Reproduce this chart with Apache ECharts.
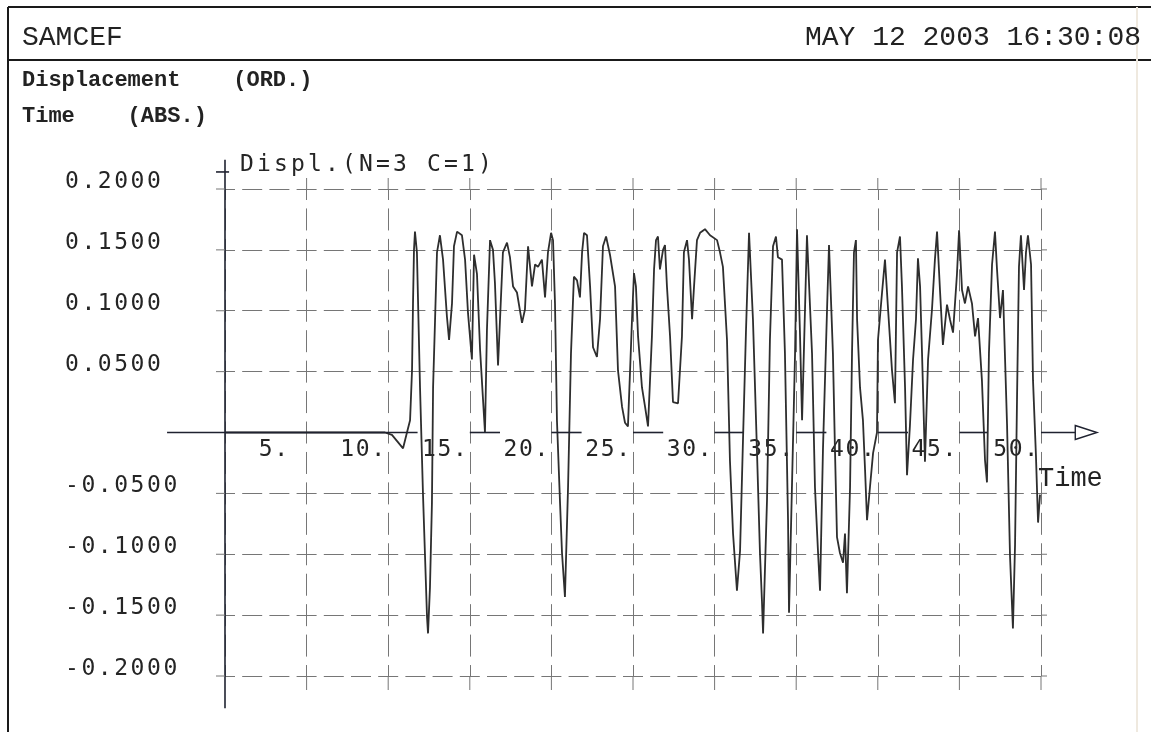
<!DOCTYPE html>
<html lang="en">
<head>
  <meta charset="UTF-8">
  <title>SAMCEF - Displacement</title>
  <script src="https://cdn.jsdelivr.net/npm/echarts@6.0.0/dist/echarts.min.js"></script>
  <style>
    html, body { margin: 0; padding: 0; background: #fff; }
    #chart { width: 1151px; height: 732px; }
  </style>
</head>
<body>
  <div id="chart"></div>
  <script>
    // Time (ABS.)
    const timeValues = [
      0, 9.80, 10.23, 10.91, 11.15, 11.34, 11.46, 11.52, 11.58, 11.64,
      11.76, 11.95, 12.13, 12.25, 12.38, 12.44, 12.56, 12.68, 12.75, 12.87,
      12.99, 13.17, 13.36, 13.60, 13.73, 13.91, 14.03, 14.22, 14.52, 14.71,
      14.89, 15.13, 15.26, 15.44, 15.63, 15.81, 15.93, 16.05, 16.24, 16.42,
      16.54, 16.73, 17.03, 17.28, 17.46, 17.65, 17.89, 18.20, 18.38, 18.57,
      18.81, 19.00, 19.18, 19.42, 19.61, 19.79, 19.98, 20.10, 20.22, 20.34,
      20.53, 20.65, 20.83, 21.02, 21.20, 21.38, 21.57, 21.75, 21.88, 22.00,
      22.18, 22.37, 22.55, 22.79, 22.98, 23.16, 23.35, 23.59, 23.90, 24.08,
      24.33, 24.51, 24.69, 24.94, 25.06, 25.18, 25.31, 25.55, 25.74, 25.92,
      26.16, 26.29, 26.41, 26.53, 26.65, 26.84, 26.96, 27.08, 27.27, 27.45,
      27.76, 28.00, 28.12, 28.31, 28.43, 28.62, 28.74, 28.92, 29.11, 29.41,
      29.72, 30.15, 30.33, 30.51, 30.76, 30.94, 31.13, 31.37, 31.56, 31.74,
      31.92, 32.11, 32.35, 32.60, 32.78, 32.90, 32.97, 33.21, 33.39, 33.58,
      33.76, 33.88, 34.13, 34.31, 34.50, 34.56, 34.68, 34.93, 35.05, 35.23,
      35.36, 35.66, 35.97, 36.15, 36.34, 36.46, 36.64, 36.89, 37.01, 37.25,
      37.38, 37.50, 37.68, 37.87, 37.99, 38.11, 38.30, 38.42, 38.54, 38.66,
      38.73, 38.91, 39.09, 39.22, 39.34, 39.52, 39.71, 39.95, 40.01, 40.26,
      40.44, 40.63, 40.87, 41.05, 41.18, 41.36, 41.48, 41.67, 41.79, 41.97,
      42.16, 42.34, 42.46, 42.59, 42.71, 42.89, 43.08, 43.32, 43.50, 43.63,
      43.81, 43.99, 44.24, 44.42, 44.61, 44.85, 44.98, 45.16, 45.34, 45.53,
      45.77, 45.96, 46.14, 46.38, 46.57, 46.69, 46.81, 47.00, 47.18, 47.30,
      47.49, 47.67, 47.92, 48.10, 48.28, 48.41, 48.53, 48.65, 48.77, 48.96,
      49.08, 49.20, 49.39, 49.51, 49.69, 49.82, 49.94
    ];

    // Displ. (N=3 C=1), same order as timeValues
    const displValues = [
      0, 0, -0.002, -0.013, 0, 0.010, 0.051, 0.106, 0.150, 0.165,
      0.148, 0.037, -0.050, -0.099, -0.152, -0.165, -0.127, -0.058, 0.037, 0.092,
      0.148, 0.162, 0.142, 0.095, 0.076, 0.106, 0.153, 0.165, 0.162, 0.142,
      0.098, 0.060, 0.146, 0.130, 0.068, 0.027, 0.000, 0.084, 0.158, 0.150,
      0.123, 0.055, 0.148, 0.156, 0.144, 0.120, 0.115, 0.090, 0.101, 0.153,
      0.120, 0.138, 0.136, 0.142, 0.111, 0.148, 0.164, 0.158, 0.106, 0.010,
      -0.058, -0.099, -0.135, -0.045, 0.065, 0.128, 0.125, 0.111, 0.148, 0.164,
      0.162, 0.120, 0.070, 0.062, 0.093, 0.153, 0.161, 0.146, 0.120, 0.051,
      0.021, 0.008, 0.005, 0.093, 0.131, 0.120, 0.079, 0.037, 0.021, 0.005,
      0.079, 0.134, 0.158, 0.161, 0.134, 0.150, 0.154, 0.120, 0.079, 0.025,
      0.024, 0.079, 0.148, 0.158, 0.142, 0.093, 0.120, 0.158, 0.164, 0.167,
      0.162, 0.158, 0.148, 0.136, 0.076, -0.023, -0.083, -0.130, -0.097, -0.006,
      0.082, 0.164, 0.093, -0.017, -0.099, -0.138, -0.165, -0.056, 0.076, 0.153,
      0.161, 0.144, 0.142, 0.065, -0.072, -0.148, -0.148, 0.065, 0.167, 0.082,
      0.010, 0.162, 0.065, -0.045, -0.099, -0.130, -0.014, 0.101, 0.154, 0.065,
      -0.017, -0.086, -0.099, -0.107, -0.083, -0.132, -0.045, 0.065, 0.148, 0.158,
      0.093, 0.037, 0.010, -0.031, -0.072, -0.045, -0.017, 0, 0.076, 0.115,
      0.142, 0.101, 0.051, 0.024, 0.148, 0.161, 0.120, 0.037, -0.035, 0.006,
      0.060, 0.093, 0.143, 0.120, 0.065, -0.024, 0.060, 0.101, 0.142, 0.165,
      0.117, 0.072, 0.105, 0.093, 0.082, 0.130, 0.166, 0.117, 0.106, 0.120,
      0.106, 0.079, 0.094, 0.043, -0.023, -0.041, 0.065, 0.138, 0.165, 0.135,
      0.094, 0.117, 0.006, -0.101, -0.161, -0.092, 0.027, 0.136, 0.162, 0.117,
      0.148, 0.162, 0.138, 0.043, -0.019, -0.074, -0.051
    ];

    const xTickLabels = ['', '5.', '10.', '15.', '20.', '25.', '30.', '35.', '40.', '45.', '50.'];
    const yTickLabels = ['-0.2000', '-0.1500', '-0.1000', '-0.0500', '', '0.0500', '0.1000', '0.1500', '0.2000'];
    const xTickValues = [5, 10, 15, 20, 25, 30, 35, 40, 45, 50];
    const yTickValues = [-0.2, -0.15, -0.1, -0.05, 0.05, 0.1, 0.15, 0.2];

    // visible pieces of the time axis (time units)
    const axisSegments = [[-3.55, 11.8], [15, 16.85], [20, 21.85], [25, 26.85], [30, 31.75],
      [35, 36.85], [40, 41.85], [45, 46.7], [50, 52.1]];

    const plotFont = 'DejaVu Sans Mono';
    const inkColor = '#252525';
    const gridColor = '#767676';
    const gridHeight = 487;

    // spread a string into fixed-pitch rich tokens (plotter lettering)
    function spread(text, style) {
      return text.split('').map(ch => '{' + style + '|' + ch + '}').join('');
    }

    const chart = echarts.init(document.getElementById('chart'));

    const option = {
      animation: false,
      backgroundColor: '#fff',
      grid: { left: 225, right: 110, top: 189, height: gridHeight },
      xAxis: {
        type: 'value',
        min: 0,
        max: 50,
        interval: 5,
        position: 'bottom',
        // y runs -0.2..0.2, so the zero line sits half a grid above the bottom
        offset: -gridHeight / 2,
        axisLine: { show: false, onZero: false },
        axisTick: { show: false },
        axisLabel: {
          margin: 6,
          align: 'right',
          verticalAlign: 'top',
          padding: [0, 3, 0, 0],
          formatter: (v, i) => xTickLabels[i] ? spread(xTickLabels[i].padEnd(3, ' '), 'x') : '',
          rich: {
            x: { width: 15.5, fontFamily: plotFont, fontSize: 23, lineHeight: 23, color: inkColor }
          }
        },
        splitLine: {
          show: true,
          lineStyle: { color: gridColor, width: 1, type: [22, 8.44], dashOffset: 11 }
        },
        name: 'Time',
        nameLocation: 'end',
        nameGap: -3,
        nameTextStyle: {
          fontFamily: 'Liberation Mono',
          fontSize: 27,
          color: '#222',
          align: 'left',
          verticalAlign: 'top',
          padding: [33, 0, 0, 0]
        }
      },
      yAxis: {
        type: 'value',
        min: -0.2,
        max: 0.2,
        interval: 0.05,
        axisLine: { show: false },
        axisTick: { show: false },
        axisLabel: {
          margin: 160,
          align: 'left',
          verticalAlign: 'bottom',
          formatter: (v, i) => yTickLabels[i] ? spread(yTickLabels[i], 'y') : '',
          rich: {
            y: { width: 16.4, fontFamily: plotFont, fontSize: 23, lineHeight: 14, color: inkColor }
          }
        },
        splitLine: {
          show: true,
          lineStyle: {
            color: yTickLabels.map(s => s ? gridColor : 'rgba(0,0,0,0)'),
            width: 1,
            type: [20, 7.2],
            dashOffset: 10
          }
        },
        name: spread('Displ.(N=3 C=1)', 'n'),
        nameLocation: 'end',
        nameGap: 12,
        nameTextStyle: {
          align: 'left',
          verticalAlign: 'bottom',
          padding: [0, 0, 0, 15],
          rich: {
            n: { width: 17, fontFamily: plotFont, fontSize: 23, lineHeight: 23, color: inkColor }
          }
        }
      },
      series: [{
        type: 'line',
        data: timeValues.map((t, i) => [t, displValues[i]]),
        showSymbol: false,
        symbol: 'none',
        clip: false,
        z: 3,
        lineStyle: { color: '#2e2e2e', width: 1.8 }
      }]
    };

    chart.setOption(option);

    // decorations placed through the chart's own scales
    const toPx = (x, y) => chart.convertToPixel({ gridIndex: 0 }, [x, y]);
    const axisStyle = { stroke: '#1f2230', lineWidth: 1.6 };
    const tickStyle = { stroke: gridColor, lineWidth: 1 };
    const line = (a, b, style) => ({
      type: 'line', z: 5, silent: true,
      shape: { x1: a[0], y1: a[1], x2: b[0], y2: b[1] }, style: style
    });

    const extras = [];
    axisSegments.forEach(([a, b]) => extras.push(line(toPx(a, 0), toPx(b, 0), axisStyle)));
    extras.push(line(toPx(0, 0.224), toPx(0, -0.2265), axisStyle));
    extras.push(line(toPx(-0.55, 0.214), toPx(0.25, 0.214), axisStyle));

    const base = toPx(52.1, 0);
    const tip = toPx(53.43, 0);
    extras.push({
      type: 'polygon', z: 6, silent: true,
      shape: { points: [[base[0], base[1] - 7], [tip[0], tip[1]], [base[0], base[1] + 7]] },
      style: { fill: '#fff', stroke: '#1f2230', lineWidth: 1.4 }
    });

    xTickValues.forEach(v => {
      const top = toPx(v, 0.2), bot = toPx(v, -0.2);
      extras.push(line(top, [top[0], top[1] - 11], tickStyle));
      extras.push(line(bot, [bot[0], bot[1] + 14], tickStyle));
    });
    yTickValues.forEach(v => {
      const l = toPx(0, v), r = toPx(50, v);
      extras.push(line([l[0] - 9, l[1]], l, tickStyle));
      extras.push(line(r, [r[0] + 6, r[1]], tickStyle));
    });

    // page frame and header texts
    const frameStyle = { stroke: '#1a1a1a', lineWidth: 2 };
    extras.push(line([8, 7], [1151, 7], frameStyle));
    extras.push(line([8, 60], [1151, 60], frameStyle));
    extras.push(line([8, 7], [8, 732], frameStyle));
    extras.push(line([1137, 7], [1137, 732], { stroke: '#efe9df', lineWidth: 2 }));

    const headerText = (x, y, text, font, align) => ({
      type: 'text', z: 5, silent: true,
      style: { x: x, y: y, text: text, font: font, fill: '#222', align: align || 'left', verticalAlign: 'middle' }
    });
    extras.push(headerText(22, 38, 'SAMCEF', '28px "Liberation Mono"'));
    extras.push(headerText(1141, 38, 'MAY 12 2003 16:30:08', '28px "Liberation Mono"', 'right'));
    extras.push(headerText(22, 80, 'Displacement    (ORD.)', 'bold 22px "Liberation Mono"'));
    extras.push(headerText(22, 116, 'Time    (ABS.)', 'bold 22px "Liberation Mono"'));

    chart.setOption({ graphic: extras });
  </script>
</body>
</html>
